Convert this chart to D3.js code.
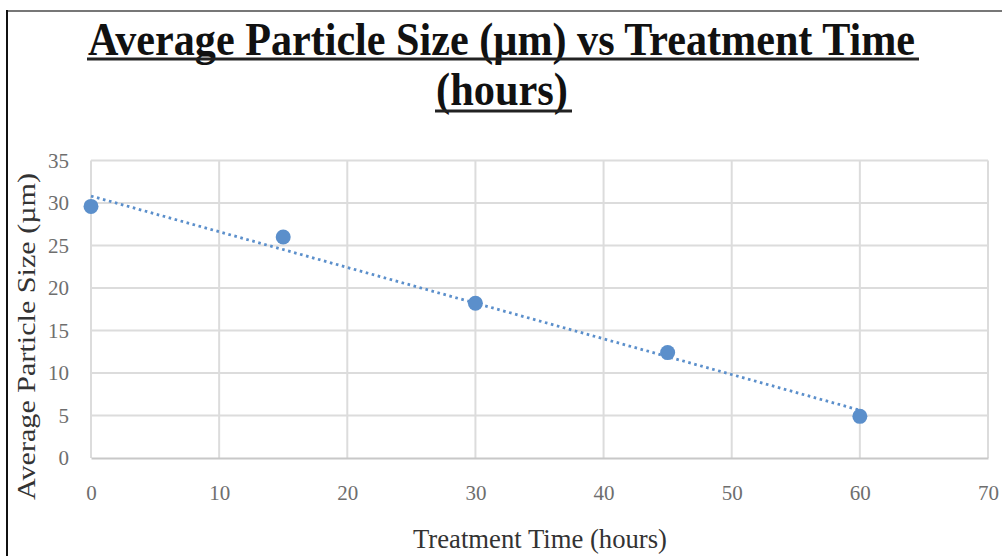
<!DOCTYPE html>
<html>
<head>
<meta charset="utf-8">
<script src="https://cdn.jsdelivr.net/npm/d3@7"></script>
<style>
  body { margin: 0; background: #fff; }
  svg { display: block; }
</style>
</head>
<body>
<div id="chart"></div>
<script>
'use strict';

// data
const hours = [0, 15, 30, 45, 60];
const sizes = [29.6, 26.0, 18.2, 12.4, 4.9];
const xTicks = [0, 10, 20, 30, 40, 50, 60, 70];
const yTicks = [0, 5, 10, 15, 20, 25, 30, 35];

const WIDTH = 1002, HEIGHT = 556;
const margin = { top: 160.5, right: 14, bottom: 98, left: 91 };
const blue = '#5b8fcb';

let svg = d3.select('#chart').append('svg')
    .attr('width', WIDTH)
    .attr('height', HEIGHT);

// frame
svg.append('line')
    .attr('x1', 7).attr('x2', WIDTH).attr('y1', 11).attr('y2', 11)
    .attr('stroke', '#777').attr('stroke-width', 2);
svg.append('line')
    .attr('x1', 7).attr('x2', 7).attr('y1', 10).attr('y2', HEIGHT)
    .attr('stroke', '#111').attr('stroke-width', 2);

// title, two underlined lines
let titleLines = [
    { text: 'Average Particle Size (µm) vs Treatment Time', x: 88, y: 55, len: 827, ul: 4 },
    { text: '(hours)', x: 436, y: 105, len: 132, ul: 6 }
];
titleLines.forEach(function (t) {
    svg.append('text')
        .attr('x', t.x).attr('y', t.y)
        .attr('textLength', t.len)
        .attr('lengthAdjust', 'spacingAndGlyphs')
        .style('font-family', 'Liberation Serif, serif')
        .style('font-weight', 'bold')
        .style('font-size', '46px')
        .style('fill', '#111')
        .text(t.text);
    svg.append('line')
        .attr('x1', t.x - 1).attr('x2', t.x + t.len + 4)
        .attr('y1', t.y + t.ul).attr('y2', t.y + t.ul)
        .attr('stroke', '#222').attr('stroke-width', 3);
});

let x = d3.scaleLinear().domain([0, 70]).range([margin.left, WIDTH - margin.right]);
let y = d3.scaleLinear().domain([0, 35]).range([HEIGHT - margin.bottom, margin.top]);

let g = svg.append('g');

// gridlines
g.selectAll('.hgrid').data(yTicks.slice(1)).enter().append('line')
    .attr('x1', x(0)).attr('x2', x(70))
    .attr('y1', d => y(d)).attr('y2', d => y(d))
    .attr('stroke', '#dcdcdc').attr('stroke-width', 2);
g.selectAll('.vgrid').data(xTicks).enter().append('line')
    .attr('x1', d => x(d)).attr('x2', d => x(d))
    .attr('y1', y(0)).attr('y2', y(35))
    .attr('stroke', '#dcdcdc').attr('stroke-width', 2);

// axes
let xAxis = g.append('g')
    .attr('transform', 'translate(0,' + y(0) + ')')
    .call(d3.axisBottom(x).tickValues(xTicks).tickSize(0).tickPadding(27));
xAxis.select('.domain').attr('stroke', '#c8c8c8').attr('stroke-width', 2);

let yAxis = g.append('g')
    .attr('transform', 'translate(' + x(0) + ',0)')
    .call(d3.axisLeft(y).tickValues(yTicks).tickSize(0).tickPadding(22));
yAxis.select('.domain').remove();

g.selectAll('.tick text')
    .style('font-family', 'Liberation Serif, serif')
    .style('font-size', '21px')
    .style('fill', '#6e6e6e');

// trendline: least squares fit of the points
let mx = d3.mean(hours), my = d3.mean(sizes);
let slope = d3.sum(hours, (h, i) => (h - mx) * (sizes[i] - my)) /
    d3.sum(hours, h => (h - mx) * (h - mx));
let icpt = my - slope * mx;
let ends = [d3.min(hours), d3.max(hours)];

g.append('path')
    .datum(ends)
    .attr('d', d3.line().x(d => x(d)).y(d => y(icpt + slope * d)))
    .attr('fill', 'none')
    .attr('stroke', blue)
    .attr('stroke-width', 2.8)
    .attr('stroke-dasharray', '2.6,3.6');

// points
g.selectAll('circle').data(hours).enter().append('circle')
    .attr('cx', d => x(d))
    .attr('cy', (d, i) => y(sizes[i]))
    .attr('r', 7.5)
    .style('fill', blue);

// axis titles
svg.append('text')
    .attr('x', 413).attr('y', 548)
    .attr('textLength', 254)
    .attr('lengthAdjust', 'spacingAndGlyphs')
    .style('font-family', 'Liberation Serif, serif')
    .style('font-size', '28px')
    .style('fill', '#333')
    .text('Treatment Time (hours)');

svg.append('text')
    .attr('transform', 'translate(35,500) rotate(-90)')
    .attr('textLength', 327)
    .attr('lengthAdjust', 'spacingAndGlyphs')
    .style('font-family', 'Liberation Serif, serif')
    .style('font-size', '25px')
    .style('fill', '#333')
    .text('Average Particle Size (µm)');
</script>
</body>
</html>
